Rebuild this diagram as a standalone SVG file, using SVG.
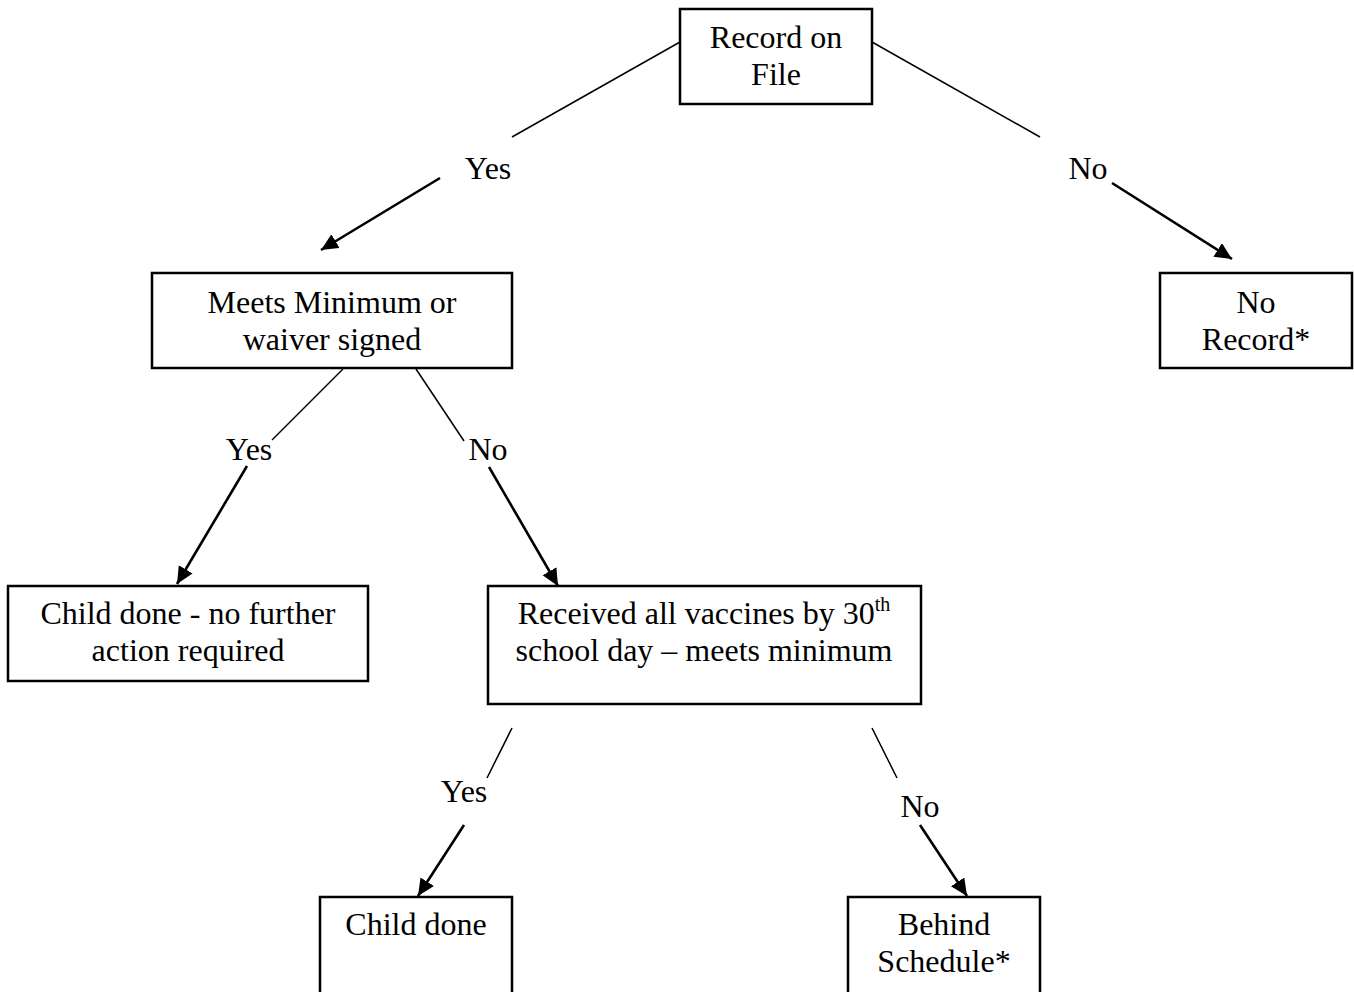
<svg xmlns="http://www.w3.org/2000/svg" width="1354" height="992" viewBox="0 0 1354 992">
<style>
.box{fill:#fff;stroke:#000;stroke-width:2.5}
text{font-family:"Liberation Serif","Times New Roman",serif;font-size:32px;fill:#000;text-anchor:middle}
.thin{stroke:#000;stroke-width:1.5;fill:none}
.arr{stroke:#000;stroke-width:2.6;fill:none;marker-end:url(#ah)}
</style>
<defs>
<marker id="ah" markerUnits="userSpaceOnUse" markerWidth="20" markerHeight="18" refX="17" refY="8" orient="auto">
<path d="M0,0 L17,8 L0,16 Z" fill="#000"/>
</marker>
</defs>
<rect width="1354" height="992" fill="#fff"/>
<g id="connectors">
<line class="thin" x1="680" y1="42" x2="512" y2="137"/>
<line class="arr" x1="440" y1="178" x2="321" y2="250"/>
<line class="thin" x1="872" y1="42" x2="1040" y2="137"/>
<line class="arr" x1="1112" y1="183" x2="1232" y2="259"/>
<line class="thin" x1="343" y1="369" x2="272" y2="440"/>
<line class="arr" x1="247" y1="466" x2="177" y2="584"/>
<line class="thin" x1="416" y1="369" x2="464" y2="441"/>
<line class="arr" x1="489" y1="467" x2="558" y2="586"/>
<line class="thin" x1="512" y1="728" x2="487" y2="778"/>
<line class="arr" x1="464" y1="825" x2="418" y2="896"/>
<line class="thin" x1="872" y1="728" x2="897" y2="778"/>
<line class="arr" x1="920" y1="825" x2="967" y2="896"/>
<g id="labels">
<text x="488" y="179">Yes</text>
<text x="1088" y="179">No</text>
<text x="249" y="460">Yes</text>
<text x="488" y="460">No</text>
<text x="464" y="802">Yes</text>
<text x="920" y="817">No</text>
</g>
</g>
<g id="record-on-file">
<rect class="box" x="680" y="9" width="192" height="95"/>
<text x="776" y="48">Record on</text>
<text x="776" y="85">File</text>
</g>
<g id="meets-minimum">
<rect class="box" x="152" y="273" width="360" height="95"/>
<text x="332" y="313">Meets Minimum or</text>
<text x="332" y="350">waiver signed</text>
</g>
<g id="no-record">
<rect class="box" x="1160" y="273" width="192" height="95"/>
<text x="1256" y="313">No</text>
<text x="1256" y="350">Record*</text>
</g>
<g id="child-done-no-further">
<rect class="box" x="8" y="586" width="360" height="95"/>
<text x="188" y="624">Child done - no further</text>
<text x="188" y="661">action required</text>
</g>
<g id="received-all-vaccines">
<rect class="box" x="488" y="586" width="433" height="118"/>
<text x="704" y="624">Received all vaccines by 30<tspan font-size="20" dy="-13">th</tspan></text>
<text x="704" y="661">school day – meets minimum</text>
</g>
<g id="child-done">
<rect class="box" x="320" y="897" width="192" height="110"/>
<text x="416" y="935">Child done</text>
</g>
<g id="behind-schedule">
<rect class="box" x="848" y="897" width="192" height="110"/>
<text x="944" y="935">Behind</text>
<text x="944" y="972">Schedule*</text>
</g>
</svg>
